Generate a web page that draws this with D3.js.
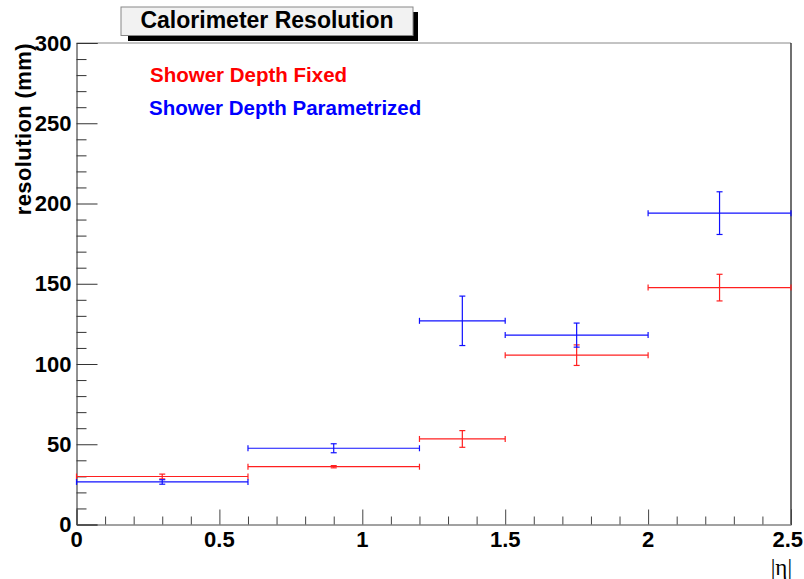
<!DOCTYPE html>
<html>
<head>
<meta charset="utf-8">
<script src="https://cdn.jsdelivr.net/npm/d3@7"></script>
<style>
  body { margin: 0; background: #fff; }
  svg { display: block; font-family: "Liberation Sans", Arial, sans-serif; }
</style>
</head>
<body>
<div id="chart"></div>
<script>
// bins in |eta|
const binLow = [0, 0.6, 1.2, 1.5, 2.0];
const binHigh = [0.6, 1.2, 1.5, 2.0, 2.5];
const binCenter = [0.3, 0.9, 1.35, 1.75, 2.25];

// Shower Depth Fixed (red)
const fixedValues = [29.9, 36.0, 53.3, 105.5, 147.6];
const fixedErrors = [1.5, 0.7, 5.2, 6.4, 8.3];

// Shower Depth Parametrized (blue)
const paramValues = [26.5, 47.5, 126.9, 118.0, 194.0];
const paramErrors = [1.4, 2.8, 15.4, 7.5, 13.3];

const xTicks = [0, 0.5, 1, 1.5, 2, 2.5];
const yTicks = [0, 50, 100, 150, 200, 250, 300];

const W = 804, H = 579;
const margin = { top: 43, right: 13, bottom: 54.5, left: 76.5 };
const width = W - margin.left - margin.right;
const height = H - margin.top - margin.bottom;

const svg = d3.select('#chart').append('svg')
  .attr('width', W)
  .attr('height', H);

const x = d3.scaleLinear().domain([0, 2.5]).range([margin.left, margin.left + width]);
const y = d3.scaleLinear().domain([0, 300]).range([margin.top + height, margin.top]);

// frame
svg.append('line')
  .attr('x1', x(0)).attr('x2', x(2.5))
  .attr('y1', y(300)).attr('y2', y(300))
  .attr('stroke', '#888').attr('stroke-width', 1);
svg.append('line')
  .attr('x1', x(2.5)).attr('x2', x(2.5))
  .attr('y1', y(300)).attr('y2', y(0))
  .attr('stroke', '#111').attr('stroke-width', 1.2);

// y axis
const yAxis = svg.append('g')
  .attr('transform', `translate(${margin.left},0)`)
  .call(d3.axisRight(y).tickValues(yTicks).tickSize(21).tickFormat(''));
yAxis.select('.domain').attr('stroke', '#222');
yAxis.selectAll('.tick line').attr('stroke', '#333');
svg.append('g')
  .attr('transform', `translate(${margin.left},0)`)
  .call(d3.axisRight(y).tickValues(d3.range(0, 301, 10).filter(v => v % 50 !== 0)).tickSize(10).tickFormat(''))
  .call(g => g.select('.domain').remove())
  .selectAll('.tick line').attr('stroke', '#333');
svg.append('g').selectAll('text')
  .data(yTicks)
  .join('text')
  .attr('x', margin.left - 5)
  .attr('y', d => y(d) + 7.5)
  .attr('text-anchor', 'end')
  .attr('font-size', 22)
  .attr('font-weight', 'bold')
  .text(d => d);

// x axis
const xAxis = svg.append('g')
  .attr('transform', `translate(0,${margin.top + height})`)
  .call(d3.axisTop(x).tickValues(xTicks).tickSize(15).tickFormat(''));
xAxis.select('.domain').attr('stroke', '#444');
xAxis.selectAll('.tick line').attr('stroke', '#444');
svg.append('g')
  .attr('transform', `translate(0,${margin.top + height})`)
  .call(d3.axisTop(x).tickValues(d3.range(1, 25).map(i => i / 10).filter(v => Math.abs(v * 2 - Math.round(v * 2)) > 1e-6)).tickSize(8).tickFormat(''))
  .call(g => g.select('.domain').remove())
  .selectAll('.tick line').attr('stroke', '#444');
svg.append('g').selectAll('text')
  .data(xTicks)
  .join('text')
  // last label would run past the right edge, so pin it to the edge
  .attr('x', (d, i) => i === xTicks.length - 1 ? W - 1 : x(d))
  .attr('y', 547)
  .attr('text-anchor', (d, i) => i === xTicks.length - 1 ? 'end' : 'middle')
  .attr('font-size', 22)
  .attr('font-weight', 'bold')
  .text(d => d);

// axis titles
svg.append('text')
  .attr('transform', `translate(31,${margin.top}) rotate(-90)`)
  .attr('text-anchor', 'end')
  .attr('font-size', 22)
  .attr('font-weight', 'bold')
  .attr('letter-spacing', 0.4)
  .text('resolution (mm)');
svg.append('text')
  .attr('x', 792)
  .attr('y', 575)
  .attr('text-anchor', 'end')
  .attr('font-family', '"Liberation Serif", "DejaVu Serif", serif')
  .attr('font-size', 23)
  .text('|η|');

// error bars
function drawSeries(values, errors, color) {
  const g = svg.append('g').attr('stroke', color).attr('stroke-width', 1.2).attr('fill', 'none');
  const data = values.map((v, i) => ({ lo: binLow[i], hi: binHigh[i], c: binCenter[i], v, e: errors[i] }));
  data.forEach(d => {
    g.append('line').attr('x1', x(d.lo)).attr('x2', x(d.hi)).attr('y1', y(d.v)).attr('y2', y(d.v));
    g.append('line').attr('x1', x(d.lo)).attr('x2', x(d.lo)).attr('y1', y(d.v) - 3).attr('y2', y(d.v) + 3);
    g.append('line').attr('x1', x(d.hi)).attr('x2', x(d.hi)).attr('y1', y(d.v) - 3).attr('y2', y(d.v) + 3);
    g.append('line').attr('x1', x(d.c)).attr('x2', x(d.c)).attr('y1', y(d.v - d.e)).attr('y2', y(d.v + d.e));
    g.append('line').attr('x1', x(d.c) - 3).attr('x2', x(d.c) + 3).attr('y1', y(d.v - d.e)).attr('y2', y(d.v - d.e));
    g.append('line').attr('x1', x(d.c) - 3).attr('x2', x(d.c) + 3).attr('y1', y(d.v + d.e)).attr('y2', y(d.v + d.e));
  });
}
drawSeries(fixedValues, fixedErrors, '#ff2020');
drawSeries(paramValues, paramErrors, '#1010ff');

// legend text
svg.append('text').attr('x', 150).attr('y', 82)
  .attr('font-size', 20.5).attr('font-weight', 'bold').attr('fill', '#ff0000')
  .text('Shower Depth Fixed');
svg.append('text').attr('x', 149).attr('y', 115)
  .attr('font-size', 20.5).attr('font-weight', 'bold').attr('fill', '#0000ff')
  .text('Shower Depth Parametrized');

// title box
svg.append('rect').attr('x', 128).attr('y', 12).attr('width', 290).attr('height', 29).attr('fill', '#000');
svg.append('rect').attr('x', 121).attr('y', 7).attr('width', 292).attr('height', 28.5)
  .attr('fill', '#f2f2f2').attr('stroke', '#888').attr('stroke-width', 1);
svg.append('text').attr('x', 267).attr('y', 28)
  .attr('text-anchor', 'middle')
  .attr('font-size', 23).attr('font-weight', 'bold')
  .text('Calorimeter Resolution');
</script>
</body>
</html>
